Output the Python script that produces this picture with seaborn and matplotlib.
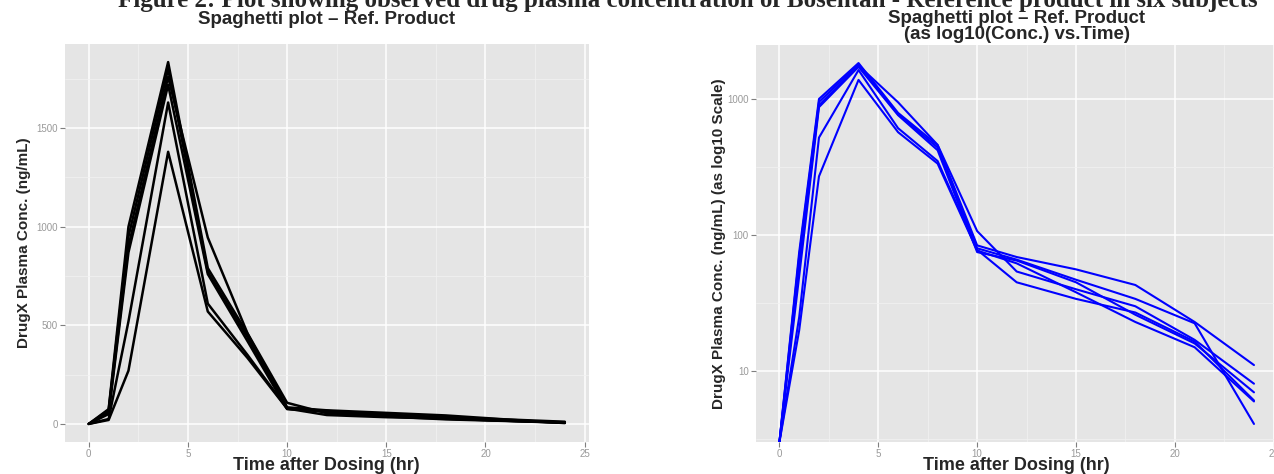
import numpy as np
import pandas as pd
import matplotlib
matplotlib.use('Agg')
import matplotlib.pyplot as plt
from matplotlib.ticker import FixedLocator, NullFormatter
import seaborn as sns

# sampling times (hr)
times = [0, 1, 2, 4, 6, 8, 10, 12, 15, 18, 21, 24]

# observed plasma conc. (ng/mL), one list per subject
subj1 = [0, 75, 1000, 1835, 790, 458, 84, 69, 56, 43, 23, 11.1]
subj2 = [0, 70, 950, 1800, 770, 440, 80, 66, 47, 34, 22.5, 4.1]
subj3 = [0, 60, 900, 1760, 945, 460, 107, 54, 40, 30, 17, 8.1]
subj4 = [0, 50, 870, 1720, 760, 420, 75, 65, 45, 26, 16, 7.0]
subj5 = [0, 25, 520, 1630, 610, 350, 78, 45, 34, 27, 16.5, 6.1]
subj6 = [0, 20, 270, 1380, 570, 335, 77, 62, 38, 23, 15, 6.0]

lin_ticks = [0, 500, 1000, 1500]
log_ticks = [10, 100, 1000]
log_tick_labels = ['10', '100', '1000']
x_ticks = [0, 5, 10, 15, 20, 25]

caption = ('Figure 2: Plot showing observed drug plasma concentration of '
           'Bosentan - Reference product in six subjects')

subjects = [subj1, subj2, subj3, subj4, subj5, subj6]
df = pd.DataFrame({
    'time': times * len(subjects),
    'subject': np.repeat(np.arange(1, len(subjects) + 1), len(times)),
    'conc': np.concatenate(subjects).astype(float),
})

sns.set_style('darkgrid', {'axes.facecolor': '#E5E5E5', 'grid.color': 'white',
                           'figure.facecolor': 'white'})
plt.rcParams['font.family'] = ['Liberation Sans', 'DejaVu Sans']

W, H = 1274, 474
fig = plt.figure(figsize=(W / 100, H / 100), dpi=100)
ax1 = fig.add_axes([65 / W, 1 - 442 / H, 523.6 / W, 398 / H])
ax2 = fig.add_axes([755.7 / W, 1 - 442 / H, 522 / W, 397 / H])

# ggplot style: 5% expansion on continuous scales
tmin, tmax = min(times), max(times)
xpad = 0.05 * (tmax - tmin)
cmax = df['conc'].max()

# linear panel
sns.lineplot(data=df, x='time', y='conc', units='subject', estimator=None,
             color='black', lw=1.8, ax=ax1, legend=False)
ax1.set_ylim(-0.05 * cmax, cmax * 1.05)
ax1.set_yticks(lin_ticks)
ax1.yaxis.set_minor_locator(FixedLocator([250, 750, 1250, 1750]))

# log panel: zero conc. goes to the bottom edge like -Inf in ggplot
pos = df.loc[df['conc'] > 0, 'conc']
lmin, lmax = np.log10(pos.min()), np.log10(pos.max())
lpad = 0.05 * (lmax - lmin)
ylo, yhi = 10 ** (lmin - lpad), 10 ** (lmax + lpad)
df['conc_log'] = df['conc'].where(df['conc'] > 0, ylo)
sns.lineplot(data=df, x='time', y='conc_log', units='subject', estimator=None,
             color='#0000FF', lw=1.5, ax=ax2, legend=False)
ax2.set_yscale('log')
ax2.set_ylim(ylo, yhi)
ax2.set_yticks(log_ticks, labels=log_tick_labels)
ax2.yaxis.set_minor_locator(FixedLocator([10 ** 0.5, 10 ** 1.5, 10 ** 2.5]))
ax2.yaxis.set_minor_formatter(NullFormatter())

for ax in (ax1, ax2):
    ax.set_xlim(tmin - xpad, tmax + xpad)
    ax.set_xticks(x_ticks)
    ax.xaxis.set_minor_locator(FixedLocator([2.5, 7.5, 12.5, 17.5, 22.5]))
    ax.grid(which='major', color='white', lw=1.1)
    ax.grid(which='minor', color='#F2F2F2', lw=0.5)
    ax.tick_params(which='major', bottom=True, left=True, length=3.5, width=0.8,
                   color='#7F7F7F', labelcolor='#999999', labelsize=7, pad=1.5)
    ax.tick_params(which='minor', length=0)
    ax.set_xlabel('Time after Dosing (hr)', fontsize=13, fontweight='bold', labelpad=-1.5)
    for s in ax.spines.values():
        s.set_visible(False)

ax1.set_ylabel('DrugX Plasma Conc. (ng/mL)', fontsize=11, fontweight='bold', labelpad=4)
ax2.set_ylabel('DrugX Plasma Conc. (ng/mL) (as log10 Scale)', fontsize=11,
               fontweight='bold', labelpad=1)

c1 = (65 + 588.6) / 2 / W
c2 = (755.7 + 1277.7) / 2 / W
fig.text(c1, 1 - 24 / H, 'Spaghetti plot \u2013 Ref. Product', ha='center',
         va='baseline', fontsize=13.5, fontweight='bold')
fig.text(c2, 1 - 23 / H, 'Spaghetti plot \u2013 Ref. Product', ha='center',
         va='baseline', fontsize=13.5, fontweight='bold')
fig.text(c2, 1 - 39 / H, '(as log10(Conc.) vs.Time)', ha='center',
         va='baseline', fontsize=13.5, fontweight='bold')
fig.text(118 / W, 1 - 7 / H, caption, ha='left', va='baseline', fontsize=18,
         fontweight='bold', family=['Liberation Serif', 'DejaVu Serif'])

fig.savefig('out.png', dpi=100)
